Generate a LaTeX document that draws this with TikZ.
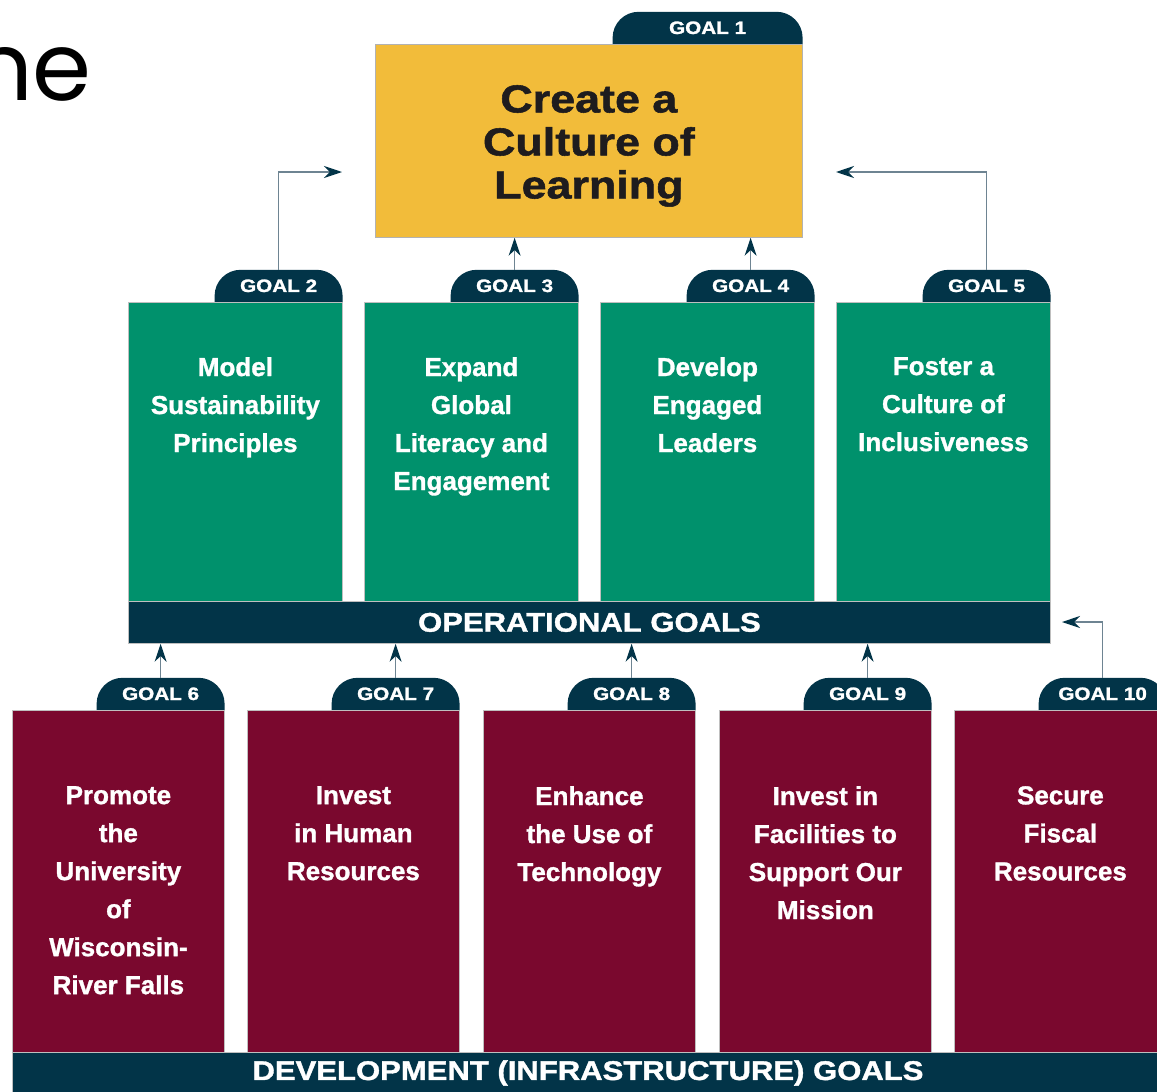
\documentclass[tikz,border=0pt]{standalone}
\usepackage{fontspec}
\setmainfont{Liberation Sans}[BoldFeatures={FakeBold=1.2}]
\newfontfamily\widefont{Liberation Sans}[FakeStretch=1.15, BoldFeatures={FakeBold=1.4}]
\newfontfamily\thinfont{Poppins}
\usetikzlibrary{arrows.meta}
\definecolor{navy}{RGB}{2,52,72}
\definecolor{goalgreen}{RGB}{0,145,108}
\definecolor{maroon}{RGB}{122,8,46}
\definecolor{gold}{RGB}{242,188,58}
\definecolor{titletext}{RGB}{30,28,30}
\definecolor{linecol}{RGB}{110,132,146}
\tikzset{
  gbox/.style={fill=goalgreen, draw=black!25, line width=0.8pt, minimum width=214, minimum height=299, inner sep=0, anchor=north west},
  mbox/.style={fill=maroon, draw=black!25, line width=0.8pt, minimum width=212, minimum height=342, inner sep=0, anchor=north west},
  tab/.style={minimum width=128, minimum height=32, inner sep=0, anchor=south east, text=white,
    font=\widefont\bfseries\fontsize{18}{18}\selectfont,
    path picture={\fill[navy, rounded corners=26pt] ([yshift=-40pt]path picture bounding box.south west) -- (path picture bounding box.north west) -- (path picture bounding box.north east) -- ([yshift=-40pt]path picture bounding box.south east) -- cycle;}},
  bar/.style={fill=navy, draw=black!25, line width=0.8pt, inner sep=0, anchor=north west, text=white,
    font=\widefont\bfseries\fontsize{27}{27}\selectfont},
  wtext/.style={text=white, font=\bfseries\fontsize{26}{38}\selectfont, align=center, inner sep=0, anchor=north},
  conn/.style={draw=linecol, line width=1.4pt, -{Stealth[length=18pt, width=12pt, color=navy]}}
}
\begin{document}
\begin{tikzpicture}[x=1pt, y=-1pt]
\useasboundingbox (0,0) rectangle (1157,1092);
\clip (0,0) rectangle (1157,1092);
\fill[white] (0,0) rectangle (1157,1092);

% partial heading
\node[font=\thinfont\fontsize{95}{95}\selectfont, anchor=base east, inner sep=0, text=black] (ne) at (92,100) {ne};

% goal 1
\node[fill=gold, draw=black!30, line width=0.8pt, minimum width=427, minimum height=193, inner sep=0, anchor=north west] (g1) at (375,44) {};
\node[tab, minimum width=190] (t1) at (g1.north east) {GOAL 1};
\node[text=titletext, font=\widefont\bfseries\fontsize{39}{43}\selectfont, align=center, inner sep=0, anchor=north] (x1) at ([yshift=-41pt]g1.north) {Create a\\Culture of\\Learning};

% operational goals
\node[gbox] (b2) at (128,302) {};
\node[gbox] (b3) at (364,302) {};
\node[gbox] (b4) at (600,302) {};
\node[gbox] (b5) at (836,302) {};
\node[tab] (t2) at (b2.north east) {GOAL 2};
\node[tab] (t3) at (b3.north east) {GOAL 3};
\node[tab] (t4) at (b4.north east) {GOAL 4};
\node[tab] (t5) at (b5.north east) {GOAL 5};
\node[wtext] (x2) at ([yshift=-55pt]b2.north) {Model\\Sustainability\\Principles};
\node[wtext] (x3) at ([yshift=-55pt]b3.north) {Expand\\Global\\Literacy and\\Engagement};
\node[wtext] (x4) at ([yshift=-55pt]b4.north) {Develop\\Engaged\\Leaders};
\node[wtext] (x5) at ([yshift=-55pt]b5.north) {Foster a\\Culture of\\Inclusiveness};
\node[bar, minimum width=922, minimum height=42] (ops) at (128,601) {OPERATIONAL GOALS};

% development goals
\node[mbox] (b6) at (12,710) {};
\node[mbox] (b7) at (247,710) {};
\node[mbox] (b8) at (483,710) {};
\node[mbox] (b9) at (719,710) {};
\node[mbox] (b10) at (954,710) {};
\node[tab] (t6) at (b6.north east) {GOAL 6};
\node[tab] (t7) at (b7.north east) {GOAL 7};
\node[tab] (t8) at (b8.north east) {GOAL 8};
\node[tab] (t9) at (b9.north east) {GOAL 9};
\node[tab] (t10) at (b10.north east) {GOAL 10};
\node[wtext] (x6) at ([yshift=-76pt]b6.north) {Promote\\the\\University\\of\\Wisconsin-\\River Falls};
\node[wtext] (x7) at ([yshift=-76pt]b7.north) {Invest\\in Human\\Resources};
\node[wtext] (x8) at ([yshift=-76pt]b8.north) {Enhance\\the Use of\\Technology};
\node[wtext] (x9) at ([yshift=-76pt]b9.north) {Invest in\\Facilities to\\Support Our\\Mission};
\node[wtext] (x10) at ([yshift=-76pt]b10.north) {Secure\\Fiscal\\Resources};
\node[bar, minimum width=1160, minimum height=46] (dev) at (12,1052) {};
\node[text=white, font=\widefont\bfseries\fontsize{27}{27}\selectfont, inner sep=0] (devtext) at (588,1073) {DEVELOPMENT (INFRASTRUCTURE) GOALS};

% connectors
\coordinate (e2) at (342,172);
\coordinate (e5) at (836,172);
\coordinate (e10) at (1062,622);
\draw[conn] (t2.north) |- (e2);
\draw[conn] (t3.north) -- (t3.north |- g1.south);
\draw[conn] (t4.north) -- (t4.north |- g1.south);
\draw[conn] (t5.north) |- (e5);
\draw[conn] (t6.north) -- (t6.north |- ops.south);
\draw[conn] (t7.north) -- (t7.north |- ops.south);
\draw[conn] (t8.north) -- (t8.north |- ops.south);
\draw[conn] (t9.north) -- (t9.north |- ops.south);
\draw[conn] (t10.north) |- (e10);
\end{tikzpicture}
\end{document}
